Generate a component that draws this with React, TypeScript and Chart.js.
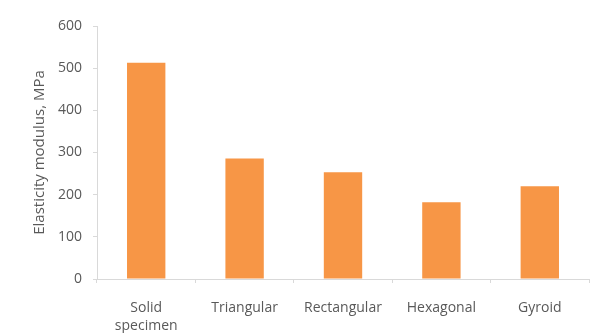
import React, { useEffect, useRef } from "react";
import { Chart, registerables } from "chart.js";

Chart.register(...registerables);

const categories: (string | string[])[] = [["Solid", "specimen"], "Triangular", "Rectangular", "Hexagonal", "Gyroid"];
const modulusValues = [513, 286, 253, 182, 220];
const yMin = 0;
const yMax = 600;
const yStep = 100;
const yTitle = "Elasticity modulus, MPa";

const TEXT = "#595959";
const AXIS = "#D9D9D9";
const BAR = "#F79646";
const FONT = "'Open Sans', sans-serif";

export default function App() {
  const ref = useRef<HTMLCanvasElement | null>(null);

  useEffect(() => {
    if (!ref.current) return;
    const chart = new Chart(ref.current, {
      type: "bar",
      data: {
        labels: categories,
        datasets: [
          {
            data: modulusValues,
            backgroundColor: BAR,
            borderWidth: 0,
            barPercentage: 1,
            categoryPercentage: 0.39,
          },
        ],
      },
      options: {
        animation: false,
        responsive: false,
        layout: { padding: { left: 27, top: 26, right: 2, bottom: 0 } },
        plugins: { legend: { display: false }, tooltip: { enabled: false } },
        scales: {
          x: {
            grid: { display: true, drawOnChartArea: false, drawTicks: true, tickLength: 4, color: AXIS, offset: true },
            border: { color: AXIS },
            ticks: { color: TEXT, font: { family: FONT, size: 14, lineHeight: 1.3 }, padding: 16, maxRotation: 0, autoSkip: false },
            afterFit: (s: any) => { s.height = 54; },
          },
          y: {
            min: yMin,
            max: yMax,
            grid: { display: true, drawOnChartArea: false, drawTicks: true, tickLength: 4, color: AXIS },
            border: { color: AXIS },
            ticks: { stepSize: yStep, color: TEXT, font: { family: FONT, size: 14 }, padding: 11 },
            title: { display: true, text: yTitle, color: TEXT, font: { family: FONT, size: 15, lineHeight: 1.2 }, padding: { top: 4, bottom: 4 } },
            afterFit: (s: any) => { s.width = 70; },
          },
        },
      },
    });
    return () => chart.destroy();
  }, []);

  return (
    <div style={{ position: "absolute", left: 0, top: 0, width: 591, height: 333, background: "#fff" }}>
      <canvas ref={ref} width={591} height={333} style={{ display: "block" }} />
    </div>
  );
}
